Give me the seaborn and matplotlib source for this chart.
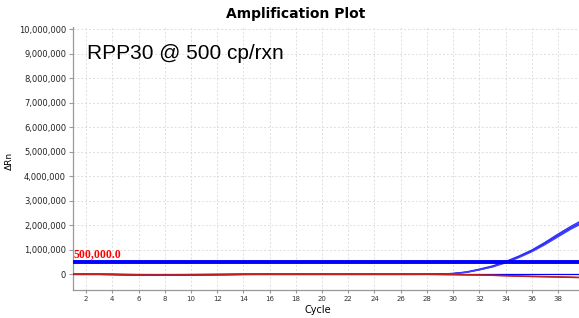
import matplotlib.pyplot as plt
import matplotlib.ticker as ticker
import numpy as np
import pandas as pd
import seaborn as sns

cycles = list(range(1, 41))

# delta Rn of the three positive wells (blue) and the two flat wells (red)
blue_a = [0, 0, 0, -5000, -12000, -18000, -20000, -20000, -18000, -15000, -12000, -8000, -4000, 0,
          0, 0, 0, 0, 0, 0, 0, 0, 0, 0, 0, 0, 0, 2000,
          12000, 35000, 95000, 210000, 340000, 520000, 740000, 990000, 1300000, 1640000, 1960000, 2250000]
blue_b = [0, 0, 0, -4000, -10000, -15000, -18000, -18000, -16000, -13000, -10000, -7000, -3000, 0,
          0, 0, 0, 0, 0, 0, 0, 0, 0, 0, 0, 0, 0, 2000,
          10000, 30000, 85000, 190000, 315000, 490000, 705000, 950000, 1250000, 1580000, 1900000, 2180000]
blue_c = [0, 0, 0, -3000, -8000, -12000, -15000, -15000, -14000, -11000, -8000, -5000, -2000, 0,
          0, 0, 0, 0, 0, 0, 0, 0, 0, 0, 0, 0, 0, 1000,
          9000, 28000, 80000, 180000, 300000, 470000, 680000, 920000, 1210000, 1530000, 1850000, 2120000]
red_a = [0, 0, 0, -8000, -20000, -28000, -32000, -32000, -30000, -27000, -24000, -20000, -12000, -4000,
         0, 0, 0, 0, 0, 0, 0, 0, 0, 0, 0, 0, 0, 0,
         -5000, -12000, -20000, -30000, -42000, -58000, -75000, -90000, -100000, -110000, -125000, -140000]
red_b = [0, 0, 0, -6000, -16000, -24000, -28000, -28000, -26000, -23000, -20000, -16000, -10000, -3000,
         0, 0, 0, 0, 0, 0, 0, 0, 0, 0, 0, 0, 0, 0,
         -4000, -10000, -17000, -26000, -37000, -52000, -68000, -82000, -92000, -102000, -115000, -128000]

threshold = 500000

wells = {"A": blue_a, "B": blue_b, "C": blue_c, "D": red_a, "E": red_b}
df = pd.concat([pd.DataFrame({"cycle": cycles, "drn": v, "well": k}) for k, v in wells.items()])

fig = plt.figure(figsize=(5.79, 3.18), dpi=100)
ax = fig.add_axes([0.126, 0.088, 0.874, 0.828])

sns.lineplot(data=df, x="cycle", y="drn", hue="well", estimator=None,
             palette={"A": "#3030ff", "B": "#2020ee", "C": "#4040ff", "D": "#b01010", "E": "#c02020"},
             linewidth=1.0, legend=False, ax=ax, zorder=3)

ax.axhline(threshold, color="#0000ff", linewidth=2.8, zorder=4)
ax.axhline(0, color="#0000ff", linewidth=0.9, zorder=2)
ax.text(1.05, threshold + 60000, "500,000.0", color="#ff0000", fontsize=8.5, fontweight="bold",
        family="Liberation Serif", va="bottom", ha="left")

ax.set_xlim(1, 39.6)
ax.set_ylim(-640000, 10100000)
ax.xaxis.set_major_locator(ticker.MultipleLocator(2))
ax.yaxis.set_major_locator(ticker.MultipleLocator(1000000))
ax.yaxis.set_major_formatter(ticker.FuncFormatter(lambda v, p: f"{int(v):,}"))
ax.tick_params(axis="x", labelsize=5, colors="#333333", length=2, pad=2, color="#999999")
ax.tick_params(axis="y", labelsize=6, colors="#222222", length=3, pad=2, color="#999999")
ax.grid(True, linestyle=(0, (2, 2)), color="#dddddd", linewidth=0.7)
ax.set_axisbelow(True)

for s in ["top", "right"]:
    ax.spines[s].set_visible(False)
for s in ["left", "bottom"]:
    ax.spines[s].set_color("#999999")
    ax.spines[s].set_linewidth(0.9)

ax.set_xlabel("Cycle", fontsize=7)
ax.set_ylabel("ΔRn", fontsize=6.5)
ax.xaxis.set_label_coords(0.484, -0.058)
ax.yaxis.set_label_coords(-0.117, 0.49)
ax.set_title("Amplification Plot", fontsize=10, fontweight="bold", pad=6, x=0.44)
ax.text(0.027, 0.935, "RPP30 @ 500 cp/rxn", transform=ax.transAxes, fontsize=15,
        family="Liberation Sans", va="top", ha="left")

fig.savefig("out.png", dpi=100)
